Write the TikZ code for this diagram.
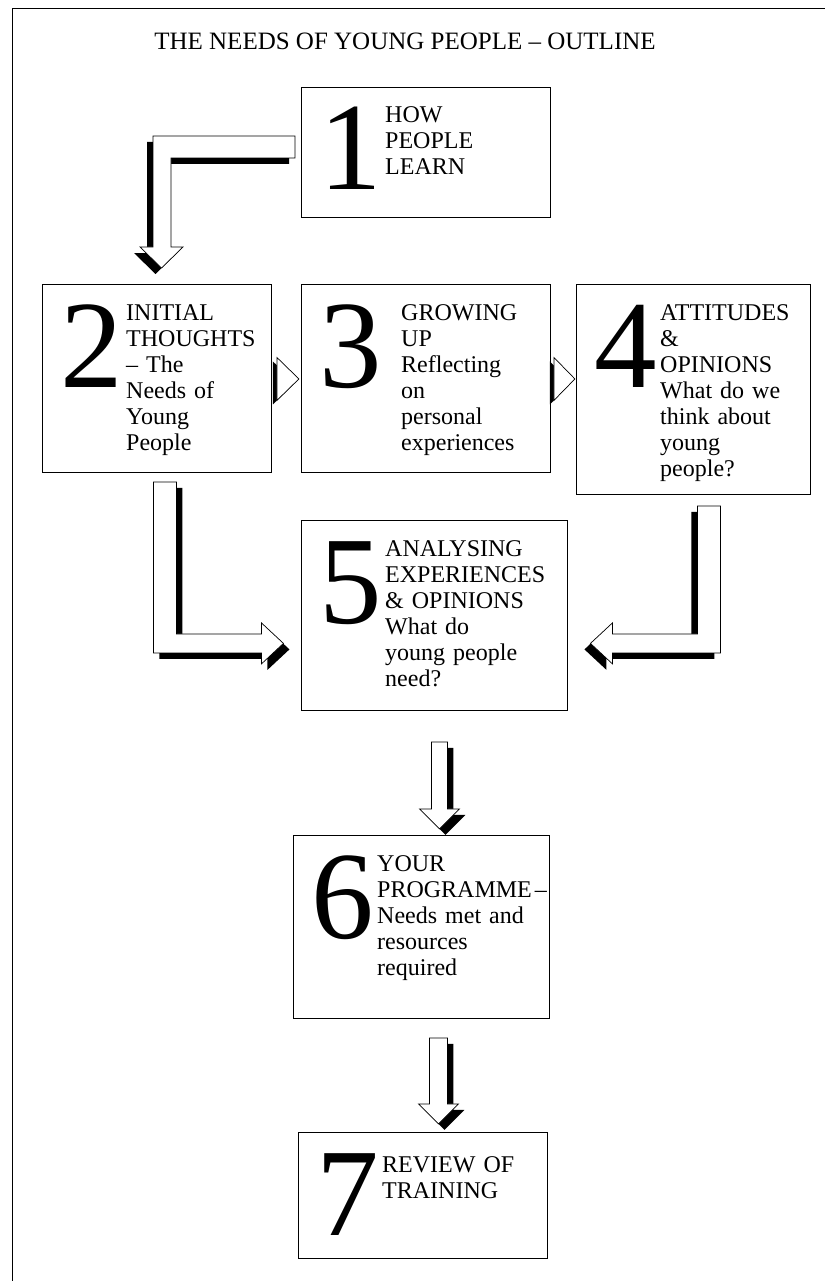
\documentclass[tikz,border=0pt]{standalone}
\usepackage{fontspec}
\setmainfont{Liberation Serif}
\begin{document}
\begin{tikzpicture}[x=1pt,y=-1pt,
		box/.style={draw,line width=0.9pt,anchor=north west,inner sep=0pt},
		numeral/.style={anchor=base west,inner sep=0pt,font=\fontsize{125}{125}\selectfont},
		txt/.style={anchor=base west,inner sep=0pt,text width=200pt,align=left,font=\fontsize{24}{26}\selectfont},
		arr/.style={fill=white,draw,line width=0.7pt},
		shadowL/.style={preaction={fill=black,transform canvas={shift={(-#1,-#1)}}}},
		shadowL/.default=6pt,
		shadowR/.style={preaction={fill=black,transform canvas={shift={(#1,-#1)}}}},
		shadowR/.default=6pt]
		\useasboundingbox (0,0) rectangle (825,1281);
		\draw[line width=0.8pt] (12,1281) -- (12,8) -- (825,8);
		\node[anchor=base,font=\fontsize{25}{27}\selectfont] (title) at (405,50) {THE NEEDS OF YOUNG PEOPLE -- OUTLINE};

		% boxes
		\node[box,minimum width=249pt,minimum height=130pt] (b1) at (301,87) {};
		\node[box,minimum width=229pt,minimum height=188pt] (b2) at (42,284) {};
		\node[box,minimum width=249pt,minimum height=188pt] (b3) at (301,284) {};
		\node[box,minimum width=234pt,minimum height=210pt] (b4) at (576,284) {};
		\node[box,minimum width=266pt,minimum height=190pt] (b5) at (301,520) {};
		\node[box,minimum width=256pt,minimum height=183pt] (b6) at (293,835) {};
		\node[box,minimum width=249pt,minimum height=126pt] (b7) at (298,1132) {};

		\foreach \b in {1,...,7}
			\node[numeral] (n\b) at ([xshift=18pt,yshift=-103pt]b\b.north west) {\b};

		\node[txt] (t1) at ([xshift=84pt,yshift=-36pt]b1.north west) {HOW\\PEOPLE\\LEARN};
		\node[txt] (t2) at ([xshift=84pt,yshift=-36pt]b2.north west) {INITIAL\\THOUGHTS\\-- The\\Needs of\\Young\\People};
		\node[txt] (t3) at ([xshift=100pt,yshift=-36pt]b3.north west) {GROWING\\UP\\Reflecting\\on\\personal\\experiences};
		\node[txt] (t4) at ([xshift=84pt,yshift=-36pt]b4.north west) {ATTITUDES\\\&\\OPINIONS\\What do we\\think about\\young\\people?};
		\node[txt] (t5) at ([xshift=84pt,yshift=-36pt]b5.north west) {ANALYSING\\EXPERIENCES\\\& OPINIONS\\What do\\young people\\need?};
		\node[txt] (t6) at ([xshift=84pt,yshift=-36pt]b6.north west) {YOUR\\PROGRAMME\kern3pt--\\Needs met and\\resources\\required};
		\node[txt] (t7) at ([xshift=84pt,yshift=-40pt]b7.north west) {REVIEW OF\\TRAINING};

		% block arrows
		\coordinate (a1) at ([xshift=-6pt,yshift=-49pt]b1.north west);
		\filldraw[arr,shadowL] (a1) -- ++(-142,0) -- ++(0,111) -- ++(-13,0) -- ++(21.5,21) -- ++(21.5,-21) -- ++(-12,0) -- ++(0,-89) -- ++(124,0) -- cycle;
		\coordinate (a2) at ([xshift=-3.5pt,yshift=-9pt]b2.south);
		\filldraw[arr,shadowR] (a2) -- ++(23,0) -- ++(0,152) -- ++(85,0) -- ++(0,-11) -- ++(22,20.5) -- ++(-22,20.5) -- ++(0,-11) -- ++(-108,0) -- cycle;
		\coordinate (a4) at ([xshift=27pt,yshift=-11pt]b4.south);
		\filldraw[arr,shadowL] (a4) -- ++(-23,0) -- ++(0,128) -- ++(-85,0) -- ++(0,-11) -- ++(-22,20.5) -- ++(22,20.5) -- ++(0,-11) -- ++(108,0) -- cycle;
		\coordinate (a5) at ([xshift=-3pt,yshift=-31pt]b5.south);
		\filldraw[arr,shadowR] (a5) -- ++(16,0) -- ++(0,67) -- ++(12,0) -- ++(-20,20) -- ++(-20,-20) -- ++(12,0) -- cycle;
		\coordinate (a6) at ([xshift=8pt,yshift=-19pt]b6.south);
		\filldraw[arr,shadowR] (a6) -- ++(18,0) -- ++(0,66) -- ++(11,0) -- ++(-20,20) -- ++(-20,-20) -- ++(11,0) -- cycle;

		% small heads between the boxes
		\filldraw[arr,shadowL=4pt] ([xshift=5pt,yshift=21pt]b2.east) -- ++(22,21.5) -- ++(-22,21.5) -- cycle;
		\filldraw[arr,shadowL=4pt] ([xshift=3pt,yshift=21pt]b3.east) -- ++(21,21.5) -- ++(-21,21.5) -- cycle;
\end{tikzpicture}
\end{document}
